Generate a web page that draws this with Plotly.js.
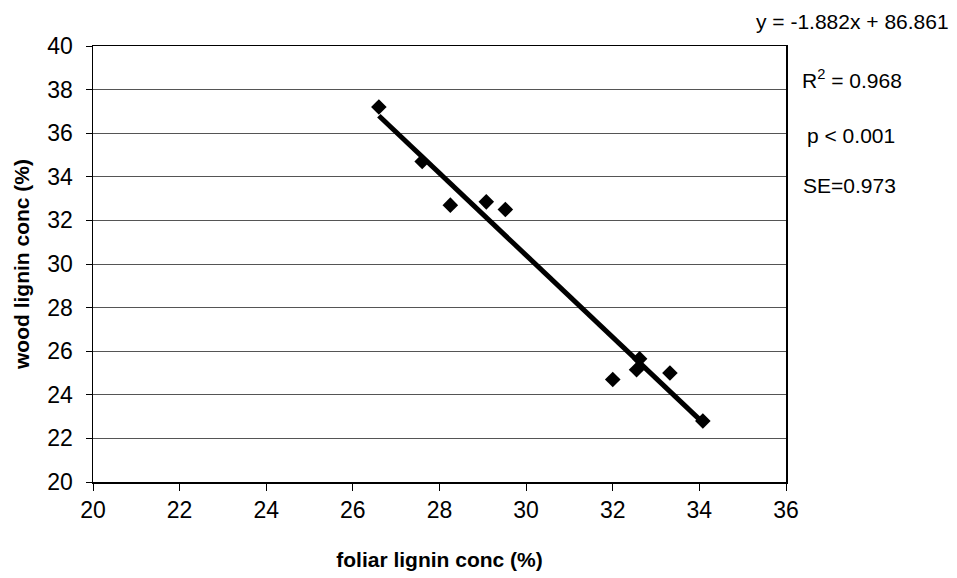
<!DOCTYPE html>
<html>
<head>
<meta charset="utf-8">
<script src="https://cdn.plot.ly/plotly-3.0.1.min.js"></script>
<style>
  html, body { margin: 0; padding: 0; background: #fff; }
  #chart { width: 957px; height: 578px; }
</style>
</head>
<body>
<div id="chart"></div>
<script>
// Foliar vs wood lignin concentration (%)
const foliarLignin = [26.6, 27.6, 28.25, 29.08, 29.52, 32.0, 32.55, 32.62, 33.32, 34.08];
const woodLignin   = [37.2, 34.7, 32.7, 32.85, 32.5, 24.7, 25.15, 25.65, 25.0, 22.8];

// Regression statistics
const slope = -1.882;
const intercept = 86.861;
const rSquared = 0.968;
const pText = "p < 0.001";
const seValue = 0.973;

const xTicks = [20, 22, 24, 26, 28, 30, 32, 34, 36];
const yTicks = [20, 22, 24, 26, 28, 30, 32, 34, 36, 38, 40];

// Fitted line over the observed foliar range
const xMin = Math.min(...foliarLignin);
const xMax = Math.max(...foliarLignin);
const fitX = [xMin, xMax];
const fitY = fitX.map(x => slope * x + intercept);

const font = "Liberation Sans, Arial, sans-serif";
const statFont = { size: 21, family: font, color: "#000" };

const traces = [
  {
    x: fitX, y: fitY, type: "scatter", mode: "lines",
    line: { color: "#000", width: 5 },
    hoverinfo: "skip", showlegend: false
  },
  {
    x: foliarLignin, y: woodLignin, type: "scatter", mode: "markers",
    marker: { symbol: "diamond", size: 12, color: "#000" },
    showlegend: false
  }
];

const layout = {
  width: 957, height: 578,
  paper_bgcolor: "#fff", plot_bgcolor: "#fff",
  margin: { l: 93, r: 171, t: 46, b: 96 },
  font: { family: font, color: "#000" },
  showlegend: false,
  xaxis: {
    range: [20, 36], tickvals: xTicks, ticktext: xTicks.map(String),
    ticks: "outside", ticklen: 7, tickwidth: 1, tickcolor: "#000",
    tickfont: { size: 23, family: font },
    showline: true, linecolor: "#000", linewidth: 1.5, mirror: true,
    showgrid: false, zeroline: false,
    title: { text: "foliar lignin conc (%)", font: { size: 21, family: font, weight: "bold" }, standoff: 30 }
  },
  yaxis: {
    range: [20, 40], tickvals: yTicks, ticktext: yTicks.map(String),
    ticks: "outside", ticklen: 6, tickwidth: 1, tickcolor: "#000",
    tickfont: { size: 23, family: font },
    ticklabelstandoff: 8,
    showline: true, linecolor: "#000", linewidth: 1.5, mirror: true,
    showgrid: true, gridcolor: "#555", gridwidth: 1, zeroline: false,
    title: { text: "wood lignin conc (%)", font: { size: 21, family: font, weight: "bold" }, standoff: 12 }
  },
  annotations: [
    { xref: "paper", yref: "paper", x: 1.0, y: 1.0, xshift: -32, yshift: 25,
      text: "y = " + slope.toFixed(3) + "x + " + intercept.toFixed(3),
      showarrow: false, xanchor: "left", yanchor: "middle", font: statFont },
    { xref: "paper", yref: "paper", x: 1.0, y: 0.924, xshift: 14,
      text: "R<sup>2</sup> = " + rSquared.toFixed(3),
      showarrow: false, xanchor: "left", yanchor: "middle", font: statFont },
    { xref: "paper", yref: "paper", x: 1.0, y: 0.794, xshift: 19,
      text: pText,
      showarrow: false, xanchor: "left", yanchor: "middle", font: statFont },
    { xref: "paper", yref: "paper", x: 1.0, y: 0.681, xshift: 15,
      text: "SE=" + seValue.toFixed(3),
      showarrow: false, xanchor: "left", yanchor: "middle", font: statFont }
  ]
};

Plotly.newPlot("chart", traces, layout, { displayModeBar: false, staticPlot: true });
</script>
</body>
</html>
